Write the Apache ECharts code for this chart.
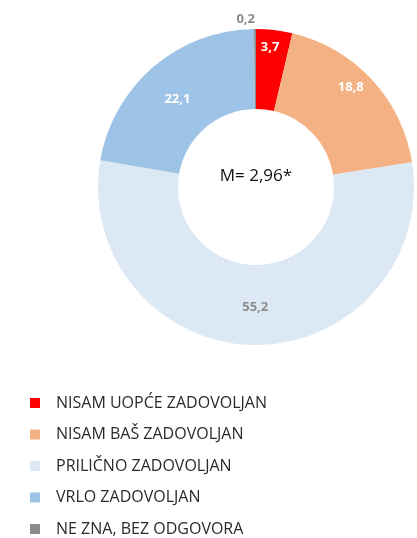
<!DOCTYPE html>
<html><head><meta charset="utf-8">
<script src="https://cdn.jsdelivr.net/npm/echarts@6/dist/echarts.min.js"></script>
<style>html,body{margin:0;padding:0;background:#fff}#c{width:417px;height:538px}</style>
</head><body><div id="c"></div>
<script>
const categories = ['NISAM UOPĆE ZADOVOLJAN','NISAM BAŠ ZADOVOLJAN','PRILIČNO ZADOVOLJAN','VRLO ZADOVOLJAN','NE ZNA, BEZ ODGOVORA'];
const values = [3.7, 18.8, 55.2, 22.1, 0.2];
const colors = ['#FF0000','#F4B183','#DDE8F5','#9DC3E6','#8C8C8C'];
const labelColors = ['#ffffff','#ffffff','#8C8C8C','#ffffff','#8C8C8C'];
const centerText = 'M= 2,96*';
const labelOffsets = [[0,-20],[6,-17],[0,-1],[0,4],[0,-2]];

const chart = echarts.init(document.getElementById('c'));
const cx = 256, cy = 187;
chart.setOption({
  animation: false,
  legend: {
    orient: 'vertical', left: 30, top: 395, height: 300, padding: 0,
    itemWidth: 10, itemHeight: 10, itemGap: 15.5,
    icon: 'rect',
    textStyle: {fontFamily: 'Open Sans', fontSize: 16, color: '#2a2a2a', padding: [0,0,0,11]},
    data: categories
  },
  graphic: [{
    type: 'text', x: cx, y: cy - 11,
    style: {text: centerText, font: '17px "Open Sans"', fill: '#111', textAlign: 'center', textVerticalAlign: 'middle'}
  }],
  series: [{
    type: 'pie', center: [cx, cy], radius: [78, 158],
    startAngle: 90, clockwise: true,
    label: {position: 'inside', fontFamily: 'Open Sans', fontWeight: 'bold', fontSize: 13,
      formatter: p => String(p.value).replace('.', ',')},
    labelLine: {show: false},
    labelLayout: function (p) {
      const o = labelOffsets[p.dataIndex];
      return {dx: o[0], dy: o[1]};
    },
    data: categories.map((n, i) => ({
      name: n, value: values[i],
      itemStyle: {color: colors[i]},
      label: i === 4 ? {position: 'outside', color: labelColors[i], distanceToLabelLine: 0} : {color: labelColors[i]},
      labelLine: i === 4 ? {show: false, length: 8, length2: 0} : undefined
    }))
  }]
});
</script></body></html>
